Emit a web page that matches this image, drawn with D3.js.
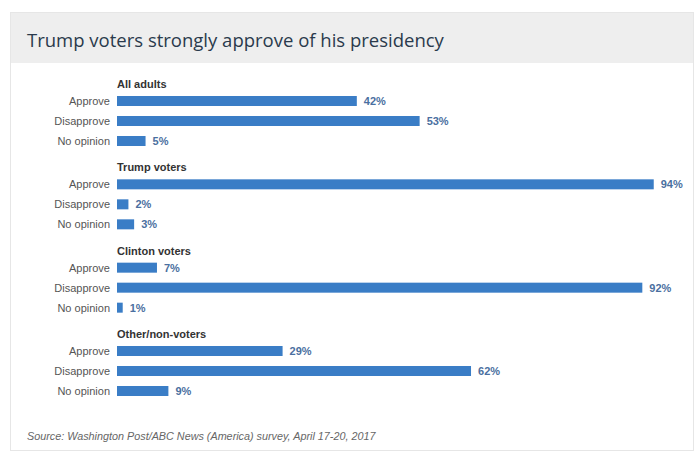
<!DOCTYPE html>
<html><head><meta charset="utf-8">
<script src="https://cdn.jsdelivr.net/npm/d3@7"></script>
<style>
html,body{margin:0;padding:0;background:#fff;}
svg{display:block;}
</style></head>
<body><svg id="c" width="699" height="459"></svg>
<script>
const title = "Trump voters strongly approve of his presidency";
const source = "Source: Washington Post/ABC News (America) survey, April 17-20, 2017";
const groups = ["All adults", "Trump voters", "Clinton voters", "Other/non-voters"];
const responses = ["Approve", "Disapprove", "No opinion"];
const allAdults = [42, 53, 5];
const trumpVoters = [94, 2, 3];
const clintonVoters = [7, 92, 1];
const otherVoters = [29, 62, 9];
const seriesValues = [allAdults, trumpVoters, clintonVoters, otherVoters];

const svg = d3.select("#c");

// card
svg.append("rect").attr("x", 10.5).attr("y", 12.5).attr("width", 683).attr("height", 438)
  .attr("fill", "#fff").attr("stroke", "#e6e6e6");
svg.append("rect").attr("x", 11).attr("y", 13).attr("width", 682).attr("height", 50)
  .attr("fill", "#eeeeee");
svg.append("text").attr("x", 27).attr("y", 47).text(title)
  .attr("font-family", "'Open Sans', 'Liberation Sans', sans-serif").attr("font-size", 18.5)
  .attr("fill", "#2a3a4c");

const x = d3.scaleLinear().domain([0, 100]).range([117, 688]);
const gy = d3.scaleLinear().domain([0, 3]).range([84, 334]);
const ry = d3.scaleBand().domain(responses).range([7, 67]).paddingInner(0.5).paddingOuter(0.25);

const font = "'Liberation Sans', Arial, sans-serif";
const gg = svg.selectAll("g.grp").data(groups).join("g").attr("class", "grp")
  .attr("transform", (d, i) => `translate(0,${gy(i)})`);
gg.append("text").attr("x", x(0)).attr("y", 4).text(d => d)
  .attr("font-family", font).attr("font-size", 11).attr("font-weight", "bold").attr("fill", "#333");

gg.each(function(g, gi) {
  const sel = d3.select(this);
  const rows = responses.map((r, ri) => ({r, v: seriesValues[gi][ri]}));
  const bh = 10;
  sel.selectAll("rect.bar").data(rows).join("rect").attr("class", "bar")
    .attr("x", x(0)).attr("y", d => ry(d.r) + ry.bandwidth() / 2 - bh / 2)
    .attr("width", d => x(d.v) - x(0)).attr("height", bh).attr("fill", "#3a7dc6");
  sel.selectAll("text.cat").data(rows).join("text").attr("class", "cat")
    .attr("x", x(0) - 7).attr("y", d => ry(d.r) + ry.bandwidth() / 2 + 4)
    .attr("text-anchor", "end").text(d => d.r)
    .attr("font-family", font).attr("font-size", 11).attr("fill", "#555");
  sel.selectAll("text.val").data(rows).join("text").attr("class", "val")
    .attr("x", d => x(d.v) + 7).attr("y", d => ry(d.r) + ry.bandwidth() / 2 + 4)
    .text(d => d.v + "%")
    .attr("font-family", font).attr("font-size", 11).attr("font-weight", "bold").attr("fill", "#4a6fa0");
});

svg.append("text").attr("x", 27).attr("y", 440).text(source)
  .attr("font-family", font).attr("font-size", 10.8).attr("font-style", "italic").attr("fill", "#666");
</script></body></html>
